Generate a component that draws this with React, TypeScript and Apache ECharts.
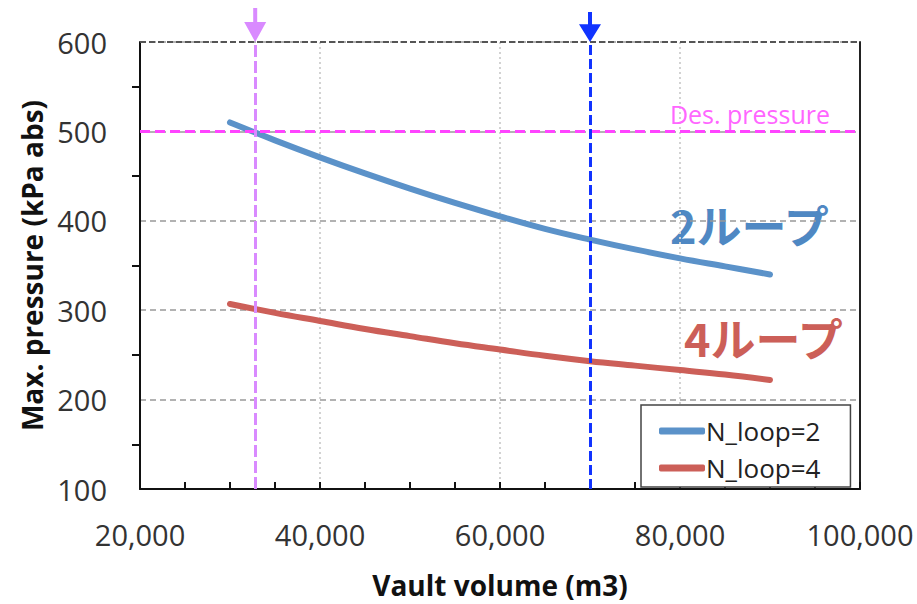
import React, { useEffect, useRef } from "react";
import * as echarts from "echarts";

const volumes = [30000, 35000, 40000, 45000, 50000, 55000, 60000, 65000, 70000, 75000, 80000, 85000, 90000];
const pressureLoop2 = [510, 490, 471, 453, 436, 420, 405, 391, 379, 368, 358, 349, 340];
const pressureLoop4 = [307, 297, 288, 279, 271, 263, 256, 249, 243, 238, 233, 228, 222];
const seriesNames = ["N_loop=2", "N_loop=4"];
const designPressure = 500;
const designLabel = "Des. pressure";
const markerVolumeA = 32800;
const markerVolumeB = 70000;
const annotation2 = "2ループ";
const annotation4 = "4ループ";

const arrowPath = "path://M9,0 L13,0 L13,14 L22,14 L11,34 L0,14 L9,14 Z";
const FONT = "'Open Sans', 'Noto Sans', sans-serif";

export default function App() {
  const ref = useRef<HTMLDivElement>(null);
  useEffect(() => {
    if (!ref.current) return;
    const chart = echarts.init(ref.current, null, { renderer: "svg" });
    const fmt = (v: number) => v.toLocaleString("en-US");
    chart.setOption({
      animation: false,
      backgroundColor: "#ffffff",
      grid: { left: 140, top: 42, right: 57, bottom: 112 },
      legend: {
        orient: "vertical",
        left: 641,
        top: 405,
        padding: [13, 30, 6, 18],
        itemGap: 11,
        itemWidth: 46,
        itemHeight: 7,
        icon: "roundRect",
        backgroundColor: "#ffffff",
        borderColor: "#444444",
        borderWidth: 1.5,
        textStyle: { fontFamily: FONT, fontSize: 26, lineHeight: 26, color: "#222222", padding: [0, 0, 0, -4] },
        data: seriesNames,
      },
      xAxis: {
        type: "value",
        min: 20000,
        max: 100000,
        interval: 20000,
        name: "Vault volume (m3)",
        nameLocation: "middle",
        nameGap: 82,
        nameTextStyle: { fontFamily: FONT, fontSize: 28, fontWeight: "bold", color: "#111" },
        axisLine: { show: true, lineStyle: { color: "#111", width: 2 } },
        axisTick: { show: true, inside: true, length: 7, lineStyle: { color: "#111", width: 2 } },
        minorTick: { show: true, splitNumber: 4, length: 7, lineStyle: { color: "#111", width: 2 } },
        axisLabel: { formatter: fmt, fontFamily: FONT, fontSize: 29, color: "#333", margin: 31 },
        splitLine: { show: true, lineStyle: { color: "#d2d2d2", width: 2, type: [2, 3] } },
      },
      yAxis: [
        {
          type: "value",
          min: 100,
          max: 600,
          interval: 100,
          name: "Max. pressure (kPa abs)",
          nameLocation: "middle",
          nameGap: 87,
          nameTextStyle: { fontFamily: FONT, fontSize: 28, fontWeight: "bold", color: "#111" },
          axisLine: { show: true, lineStyle: { color: "#111", width: 2 } },
          axisTick: { show: false },
          minorTick: { show: true, splitNumber: 2, length: 8, lineStyle: { color: "#111", width: 2 } },
          axisLabel: { fontFamily: FONT, fontSize: 29, color: "#333", margin: 33 },
          splitLine: { show: true, lineStyle: { color: "#999999", width: 1.5, type: [6, 4] } },
        },
        {
          type: "value",
          min: 100,
          max: 600,
          interval: 100,
          position: "right",
          axisLine: { show: true, lineStyle: { color: "#222", width: 2 } },
          axisTick: { show: false },
          axisLabel: { show: false },
          splitLine: { show: false },
        },
      ],
      series: [
        {
          name: seriesNames[0],
          type: "line",
          smooth: 0.4,
          showSymbol: false,
          data: volumes.map((v, i) => [v, pressureLoop2[i]]),
          lineStyle: { color: "#5b92c9", width: 6, cap: "round" },
          itemStyle: { color: "#5b92c9" },
          z: 3,
        },
        {
          name: seriesNames[1],
          type: "line",
          smooth: 0.4,
          showSymbol: false,
          data: volumes.map((v, i) => [v, pressureLoop4[i]]),
          lineStyle: { color: "#cc5f58", width: 6, cap: "round" },
          itemStyle: { color: "#cc5f58" },
          z: 3,
        },
        {
          name: "markers",
          type: "line",
          data: [],
          z: 4,
          markLine: {
            silent: true,
            symbol: "none",
            animation: false,
            data: [
              {
                yAxis: 600,
                lineStyle: { color: "#555555", width: 2, type: [6, 3] },
                label: { show: false },
              },
              {
                yAxis: designPressure,
                lineStyle: { color: "#ff44ff", width: 3, type: [10, 5] },
                label: {
                  show: true,
                  position: "insideEndTop",
                  formatter: designLabel,
                  color: "#ff66ff",
                  fontFamily: FONT,
                  fontSize: 25,
                  distance: [30, 5],
                },
              },
              {
                xAxis: markerVolumeA,
                lineStyle: { color: "#d98aff", width: 3, type: [12, 4] },
                label: { show: false },
              },
              {
                xAxis: markerVolumeB,
                lineStyle: { color: "#1133ff", width: 3, type: [10, 4] },
                label: { show: false },
              },
            ],
          },
          markPoint: {
            silent: true,
            label: { show: false },
            data: [
              {
                coord: [markerVolumeA, 600],
                symbol: arrowPath,
                symbolSize: [22, 34],
                symbolOffset: [0, -17],
                itemStyle: { color: "#d98aff" },
              },
              {
                coord: [markerVolumeB, 600],
                symbol: arrowPath,
                symbolSize: [22, 30],
                symbolOffset: [0, -15],
                itemStyle: { color: "#1133ff" },
              },
            ],
          },
        },
      ],
      graphic: [
        {
          type: "text",
          left: 670,
          top: 202,
          style: {
            text: annotation2,
            fill: "#4f88c3",
            font: "bold 45px 'Noto Sans CJK JP', sans-serif",
          },
        },
        {
          type: "text",
          left: 684,
          top: 315,
          style: {
            text: annotation4,
            fill: "#cc5f58",
            font: "bold 45px 'Noto Sans CJK JP', sans-serif",
          },
        },
      ],
    });
    return () => chart.dispose();
  }, []);
  return <div ref={ref} style={{ width: 917, height: 604, position: "absolute", left: 0, top: 0 }} />;
}
